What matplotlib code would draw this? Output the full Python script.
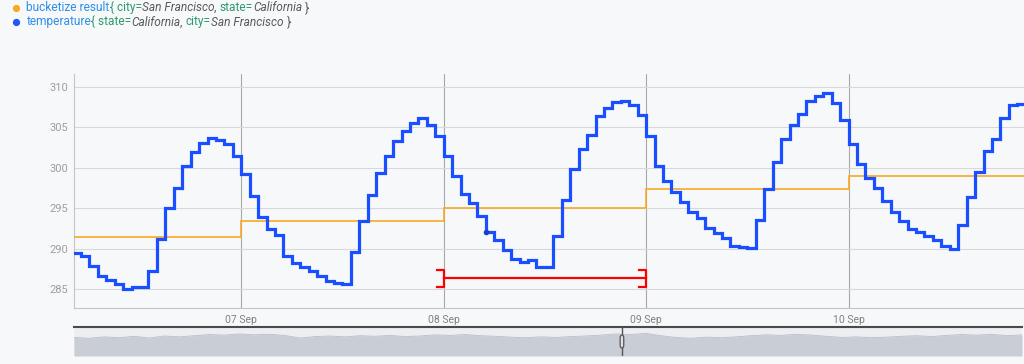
""" Hourly temperature vs daily bucketize result, San Francisco """

import matplotlib
matplotlib.use("Agg")
import matplotlib.pyplot as plt
from matplotlib.lines import Line2D
from matplotlib.patches import FancyBboxPatch
import numpy as np

plt.rcParams['font.family'] = ['Roboto', 'DejaVu Sans']

# hourly temperature, starting 06 Sep 04:00 (hours counted from 06 Sep 00:00)
temp_start = 4
temp = [
    # 06 Sep 04..23
    289.5, 289.1, 287.9, 286.7, 286.1, 285.7, 285.1, 285.3, 285.3, 287.3,
    291.2, 295.0, 297.5, 300.2, 301.9, 303.0, 303.7, 303.4, 302.9, 301.4,
    # 07 Sep
    299.2, 296.5, 293.9, 292.5, 291.7, 289.1, 288.3, 287.7, 287.3, 286.7,
    286.0, 285.8, 285.6, 289.6, 293.4, 296.7, 299.4, 301.4, 303.3, 304.5,
    305.5, 306.1, 305.3, 303.9,
    # 08 Sep
    301.5, 299.0, 296.8, 295.7, 294.0, 292.1, 291.1, 289.8, 288.8, 288.4,
    288.6, 287.7, 287.7, 291.6, 296.0, 299.8, 302.3, 304.0, 306.4, 307.4,
    308.1, 308.3, 307.8, 306.5,
    # 09 Sep
    303.9, 300.2, 298.4, 297.0, 295.8, 294.6, 293.8, 292.6, 291.9, 291.3,
    290.3, 290.2, 290.1, 293.5, 297.4, 300.7, 303.5, 305.3, 306.6, 308.3,
    308.8, 309.2, 308.0, 305.9,
    # 10 Sep 00..20
    302.9, 300.5, 298.8, 297.5, 295.9, 294.6, 293.4, 292.5, 292.1, 291.6,
    291.1, 290.3, 290.0, 292.9, 296.4, 299.5, 302.1, 303.5, 306.1, 307.8,
    307.9,
]

# daily bucketize result
bucket_edges = [0, 24, 48, 72, 96, 120]
bucket_vals = [291.5, 293.4, 295.0, 297.4, 299.0]

# highlighted span (red bracket)
span_start, span_end, span_level = 48, 72, 286.35

# hovered point
dot_hour, dot_val = 53, 292.1

day_ticks = [24, 48, 72, 96]
day_labels = ["07 Sep", "08 Sep", "09 Sep", "10 Sep"]
y_ticks = [285, 290, 295, 300, 305, 310]

# navigator overview (rough heights read off the strip)
nav_vals = [6.4, 6.1, 6.6, 6.3, 6.8, 6.2, 6.9, 6.6, 7.0, 7.4, 7.2, 7.6, 7.3,
            7.5, 7.1, 6.2, 6.7, 6.9, 6.6, 7.0, 6.8, 7.1, 6.7, 6.9, 7.3, 7.1,
            7.4, 7.0, 6.8, 6.5, 6.3, 6.6, 6.4, 6.7, 6.9, 7.2, 7.6, 7.4, 7.8,
            7.0, 6.4, 6.1, 6.5, 6.3, 6.6, 7.0, 7.3, 7.1, 7.5, 7.2, 6.8, 6.4,
            6.6, 6.3, 6.5, 6.8, 7.0, 6.7, 7.1, 7.4, 7.2, 7.5, 7.0, 7.3]
nav_handle = 0.578

BG = "#f7f8fa"
BLUE = "#1a4fff"
ORANGE = "#f9a825"
W, H = 1024, 364

fig = plt.figure(figsize=(W / 100, H / 100), dpi=100, facecolor=BG)
ax = fig.add_axes([74 / W, 1 - 308 / H, 950 / W, 234 / H], facecolor=BG)

edges = np.arange(temp_start, temp_start + len(temp) + 1)
ax.stairs(temp, edges, baseline=None, color=BLUE, lw=2.3, zorder=4)
ax.stairs(bucket_vals, bucket_edges, baseline=None, color=ORANGE, lw=1.2,
          zorder=3)
ax.plot([dot_hour], [dot_val], 'o', color="#1a3fcc", ms=3, zorder=5)

# red bracket
stub = 0.8
half = 1.0
ax.plot([span_start, span_end], [span_level, span_level], color="red",
        lw=1.6, zorder=5)
for xe in (span_start, span_end):
    ax.plot([xe - stub, xe, xe, xe - stub],
            [span_level + half, span_level + half,
             span_level - half, span_level - half],
            color="red", lw=1.6, zorder=5)

ax.set_xlim(4.17, 116.8)
ax.set_ylim(282.7, 311.57)
ax.set_yticks(y_ticks)
ax.set_xticks(day_ticks)
ax.set_xticklabels(day_labels)
ax.grid(axis='y', color="#d6d8dc", lw=0.8)
ax.grid(axis='x', color="#a8a8a8", lw=0.8)
ax.tick_params(axis='y', length=0, pad=4, labelsize=8, labelcolor="#9e9e9e")
ax.tick_params(axis='x', length=0, pad=5, labelsize=7.5, labelcolor="#808080")
for lab in ax.get_xticklabels():
    lab.set_family(['Liberation Sans Narrow', 'Roboto', 'DejaVu Sans'])
for s in ("top", "right"):
    ax.spines[s].set_visible(False)
ax.spines["left"].set_color("#c4c4c4")
ax.spines["bottom"].set_color("#c4c4c4")
ax.set_axisbelow(True)

# navigator strip
nav = fig.add_axes([74 / W, 1 - 356 / H, 948 / W, 29 / H], facecolor="#eceef1")
nx = np.arange(len(nav_vals))
nav.fill_between(nx, nav_vals, 0, color="#c9cdd5", lw=0)
nav.plot(nx, nav_vals, color="#b9bec8", lw=0.6)
nav.set_xlim(0, len(nav_vals) - 1)
nav.set_ylim(0, 10)
nav.set_xticks([])
nav.set_yticks([])
for s in ("left", "right", "bottom"):
    nav.spines[s].set_visible(False)
nav.spines["top"].set_color("#4a4a4a")
nav.spines["top"].set_linewidth(1.5)
hx = nav_handle * (len(nav_vals) - 1)
nav.axvline(hx, color="#555555", lw=1.0)
nav.add_patch(FancyBboxPatch((hx - 0.12, 2.8), 0.24, 4.4,
                             boxstyle="round,pad=0,rounding_size=0.1",
                             fc="#dcdfe4", ec="#555555", lw=0.9, zorder=5,
                             mutation_aspect=10))

# legend with coloured label parts
renderer = fig.canvas.get_renderer()
GREEN = "#2e9a6e"
GREY = "#5a5a5a"
legend_rows = [
    (ORANGE, [("bucketize result", "#2d8fe6", "normal"), ("{ city=", GREEN, "normal"),
              ("San Francisco", GREY, "italic"), (", ", GREY, "normal"),
              ("state=", GREEN, "normal"),
              ("California", GREY, "italic"), (" }", GREY, "normal")]),
    ("#2356f0", [("temperature", "#2d8fe6", "normal"), ("{ state=", GREEN, "normal"),
                 ("California", GREY, "italic"), (", ", GREY, "normal"),
                 ("city=", GREEN, "normal"),
                 ("San Francisco", GREY, "italic"), (" }", GREY, "normal")]),
]
for i, (dot_color, parts) in enumerate(legend_rows):
    yy = 1 - (7.5 + 14.5 * i) / H
    fig.add_artist(Line2D([15.7 / W], [yy], marker='o', ms=4.2, color=dot_color,
                          mec=dot_color, transform=fig.transFigure))
    xx = 26.5 / W
    for txt, col, style in parts:
        t = fig.text(xx, yy, txt, color=col, style=style, fontsize=8.6,
                     va='center', ha='left')
        xx += t.get_window_extent(renderer).width / W

fig.savefig("out.png", dpi=100, facecolor=BG)
